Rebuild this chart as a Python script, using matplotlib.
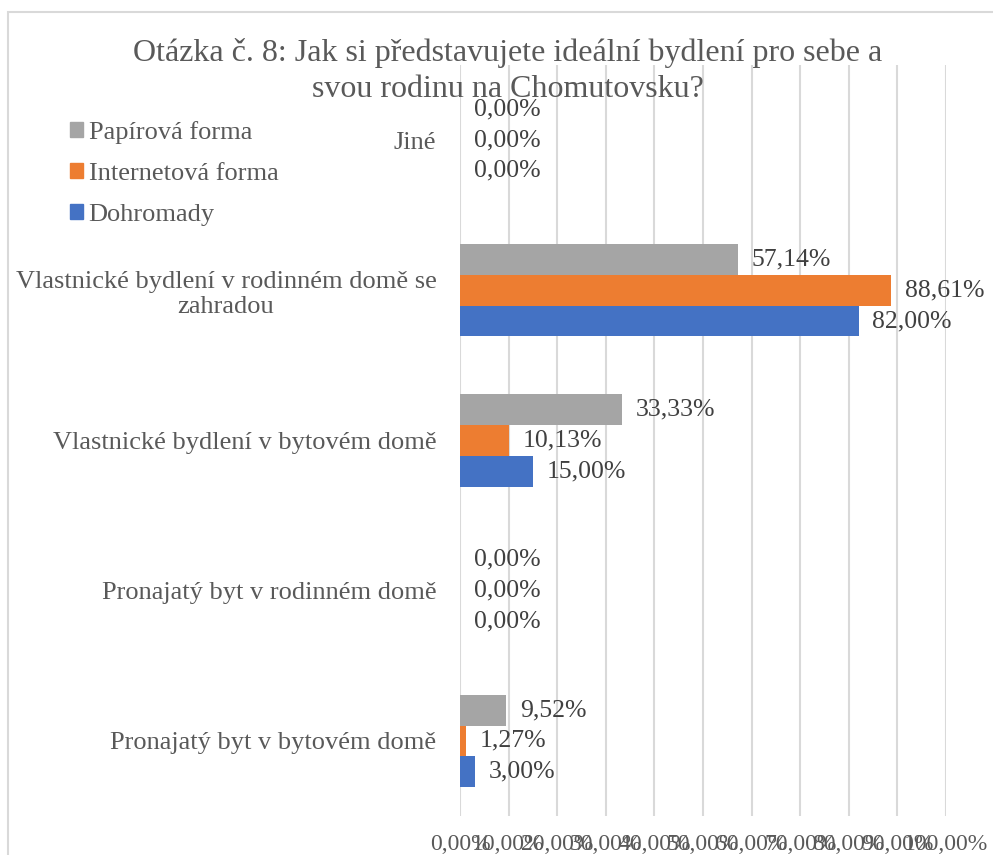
import matplotlib.pyplot as plt
from matplotlib.patches import Patch, Rectangle

plt.rcParams["font.family"] = ["Liberation Serif", "DejaVu Serif"]

# ========= data =========
categories = [
    "Jiné",
    "Vlastnické bydlení v rodinném domě se\nzahradou",
    "Vlastnické bydlení v bytovém domě",
    "Pronajatý byt v rodinném domě",
    "Pronajatý byt v bytovém domě",
]
papirova = [0.00, 57.14, 33.33, 0.00, 9.52]
internetova = [0.00, 88.61, 10.13, 0.00, 1.27]
dohromady = [0.00, 82.00, 15.00, 0.00, 3.00]
series_names = ["Papírová forma", "Internetová forma", "Dohromady"]
x_ticks = list(range(0, 101, 10))

title = "Otázka č. 8: Jak si představujete ideální bydlení pro sebe a\nsvou rodinu na Chomutovsku?"

colors = ["#A5A5A5", "#ED7D31", "#4472C4"]
text_col = "#595959"

fig = plt.figure(figsize=(9.93, 8.55), dpi=100)
ax = fig.add_axes([460 / 993, 1 - 816 / 855, 486 / 993, 751 / 855])

bh = 0.205
offsets = [-bh, 0, bh]
ypos = list(range(len(categories)))
for vals, off, col in zip([papirova, internetova, dohromady], offsets, colors):
    ys = [y + off for y in ypos]
    ax.barh(ys, vals, height=bh, color=col, zorder=3)
    for y, v in zip(ys, vals):
        ax.annotate(f"{v:.2f}".replace(".", ",") + "%", xy=(v, y), xytext=(10, 0),
                    textcoords="offset points", va="center", ha="left",
                    fontsize=18.5, color="#404040", zorder=4)

ax.set_ylim(len(categories) - 0.5, -0.5)
ax.set_xlim(0, 100)
ax.set_yticks(ypos)
ax.set_yticklabels(categories, fontsize=19, color=text_col, multialignment="center",
                   linespacing=1.2)
ax.set_xticks(x_ticks)
ax.set_xticklabels([f"{t},00%" for t in x_ticks], fontsize=17, color=text_col)
ax.tick_params(axis="y", length=0, pad=17)
ax.tick_params(axis="x", length=0, pad=13)
ax.grid(axis="x", color="#D9D9D9", linewidth=1.5, zorder=0)
for s in ax.spines.values():
    s.set_visible(False)
ax.patch.set_alpha(0)

fig.text(508 / 993, 1 - 71 / 855, title, ha="center", va="center", fontsize=23,
         color=text_col, linespacing=1.34, multialignment="center")

handles = [Patch(color=c) for c in colors]
fig.legend(handles, series_names, loc="upper left", bbox_to_anchor=(57 / 993, 1 - 108 / 855),
           frameon=False, fontsize=19, handlelength=0.5, handleheight=0.5,
           handletextpad=0.2, labelspacing=0.71, labelcolor=text_col, borderpad=0)

fig.patches.append(Rectangle((8 / 993, -0.1), 1.2, 1 - 12 / 855 + 0.1,
                             transform=fig.transFigure, fill=False,
                             edgecolor="#D9D9D9", linewidth=1.5))

fig.savefig("out.png", dpi=100)
